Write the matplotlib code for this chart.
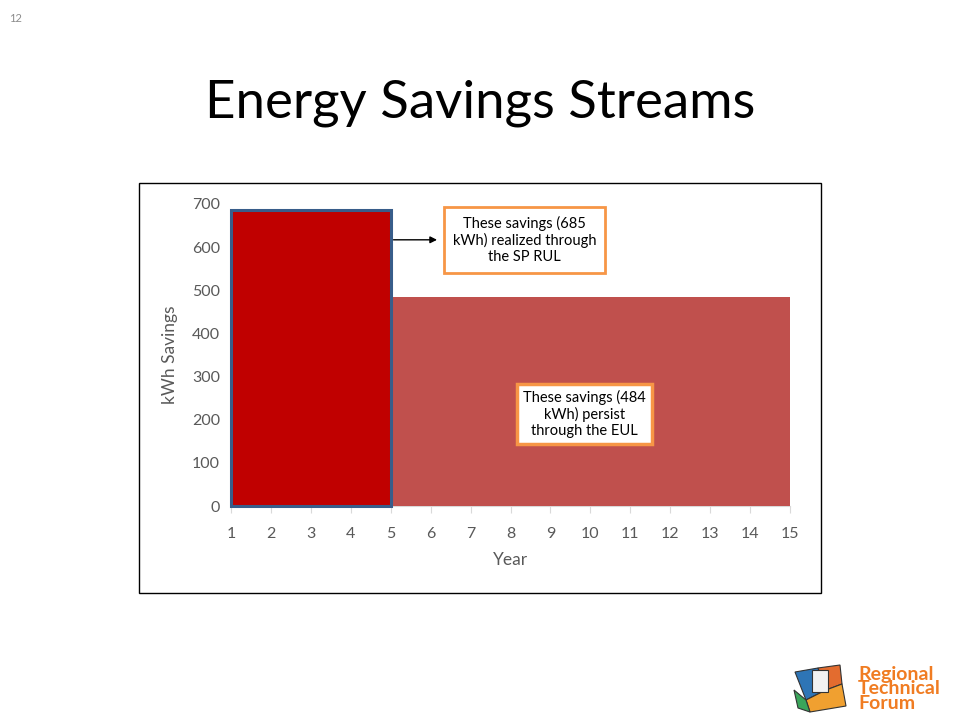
import matplotlib
matplotlib.use('Agg')
from matplotlib import pyplot as plt
from matplotlib.patches import Rectangle, Polygon

# Energy savings streams slide
plt.rcParams['font.family'] = ['Lato', 'DejaVu Sans']

years = list(range(1, 16))
yticks = [0, 100, 200, 300, 400, 500, 600, 700]

# savings periods: (start year, end year, kWh)
rul_period = [1, 5]
rul_kwh = 685
eul_period = [5, 15]
eul_kwh = 484

rul_note = 'These savings (685\nkWh) realized through\nthe SP RUL'
eul_note = 'These savings (484\nkWh) persist\nthrough the EUL'

fig = plt.figure(figsize=(9.6, 7.2), dpi=100)
W, H = 960, 720

# slide title & page number
fig.text(480 / W, 1 - 103 / H, 'Energy Savings Streams', ha='center', va='center',
         fontsize=38, color='black')
fig.text(16 / W, 1 - 18 / H, '12', ha='center', va='center', fontsize=8, color='#8c8c8c')

# chart frame
fig.add_artist(Rectangle((139 / W, 1 - 593 / H), (821 - 139) / W, (593 - 183) / H,
                         transform=fig.transFigure, fill=False, edgecolor='black', lw=1))

ax = fig.add_axes([231 / W, 1 - 506 / H, (790 - 231) / W, (506 - 204) / H])

ax.bar(eul_period[0], eul_kwh, width=eul_period[1] - eul_period[0], align='edge',
       color='#C0504D', edgecolor='none', zorder=2)
ax.bar(rul_period[0], rul_kwh, width=rul_period[1] - rul_period[0], align='edge',
       color='#C00000', edgecolor='#385D8A', lw=2.2, zorder=3)

ax.set_xlim(1, 15)
ax.set_ylim(0, 700)
ax.set_xticks(years)
ax.set_yticks(yticks)
ax.tick_params(axis='x', colors='#d9d9d9', length=5, labelcolor='#595959',
               labelsize=11.5, pad=10)
ax.tick_params(axis='y', length=0, labelcolor='#595959', labelsize=11.5, pad=8)
for s in ['top', 'right', 'left']:
    ax.spines[s].set_visible(False)
ax.spines['bottom'].set_color('#d9d9d9')
ax.spines['bottom'].set_zorder(1)
for p in ax.patches:
    p.set_clip_on(False)

ax.set_xlabel('Year', fontsize=12.5, color='#595959', labelpad=8)
ax.set_ylabel('kWh Savings', fontsize=12.5, color='#595959', labelpad=10)

# annotations
ax.annotate('', xy=(6.23, 617), xytext=(5.0, 617),
            arrowprops=dict(arrowstyle='-|>', color='black', lw=1, mutation_scale=10),
            zorder=5)
ax.text(8.35, 617, rul_note, ha='center', va='center', fontsize=10.5, color='black',
        linespacing=1.2, zorder=6,
        bbox=dict(boxstyle='square,pad=0.6', facecolor='white', edgecolor='#F79646', lw=2))
ax.text(9.85, 213, eul_note, ha='center', va='center', fontsize=10.5, color='black',
        linespacing=1.2, zorder=6,
        bbox=dict(boxstyle='square,pad=0.4', facecolor='white', edgecolor='#F79646', lw=2.5))

# logo (rough)
logo = [
    ([(795, 672), (818, 668), (826, 690), (806, 700)], '#2e75b6'),
    ([(818, 668), (840, 665), (842, 684), (826, 690)], '#e36c2f'),
    ([(806, 700), (826, 690), (842, 684), (846, 706), (810, 712)], '#f0a030'),
    ([(794, 690), (806, 700), (810, 712), (798, 708)], '#3aa55a'),
]
for pts, col in logo:
    fig.add_artist(Polygon([(x / W, 1 - y / H) for x, y in pts], closed=True,
                           transform=fig.transFigure, facecolor=col, edgecolor='#333333',
                           lw=0.8))
fig.add_artist(Rectangle((812 / W, 1 - 692 / H), 16 / W, 22 / H, transform=fig.transFigure,
                         facecolor='#f2f2f2', edgecolor='#333333', lw=0.8))
fig.text(858 / W, 1 - 689 / H, 'Regional\nTechnical\nForum', ha='left', va='center',
         fontsize=14, fontweight='bold', color='#F07C22', linespacing=0.85)

fig.savefig('out.png', dpi=100)
